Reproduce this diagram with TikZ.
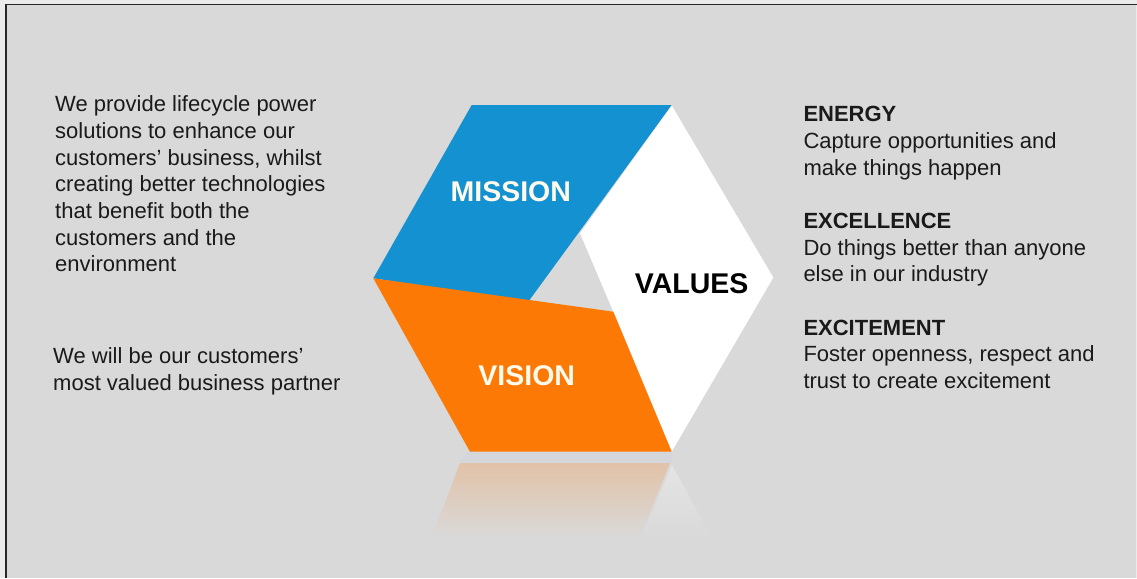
\documentclass[tikz,border=0pt]{standalone}
\usepackage{fontspec}
\setmainfont{Liberation Sans}
\begin{document}
\begin{tikzpicture}[x=1pt,y=-1pt,
  bodytext/.style={anchor=north west, inner sep=0pt, align=left, text=textdark,
    font=\fontsize{22}{26.7}\selectfont},
  headtext/.style={anchor=base west, inner sep=0pt, text=textdark,
    font=\fontsize{22}{26.7}\selectfont\bfseries},
  facetext/.style={anchor=base, inner sep=0pt, font=\fontsize{28.5}{30}\selectfont\bfseries}]
\definecolor{bg}{RGB}{217,217,217}
\definecolor{edge}{RGB}{235,235,235}
\definecolor{textdark}{RGB}{26,26,26}
\definecolor{missionblue}{RGB}{20,145,208}
\definecolor{visionorange}{RGB}{252,121,6}
\definecolor{reforange}{RGB}{226,194,168}
\definecolor{refwhite}{RGB}{228,228,228}
\definecolor{reflband}{RGB}{212,214,220}
\definecolor{cream}{RGB}{255,250,235}

% canvas and frame
\fill[edge] (0,0) rectangle (1137,578);
\fill[bg] (6,4.5) rectangle (1135.5,578);
\useasboundingbox (0,0) rectangle (1137,578);
\draw[line width=1.6pt, black!85] (6,578) -- (6,4.5) -- (1137,4.5);

% faint reflection below the hexagon
\fill[reflband] (466,452) -- (672,452) -- (672,463) -- (460,463) -- cycle;
\shade[top color=reforange, bottom color=bg] (460,463) -- (670,463) -- (640,537) -- (432,537) -- cycle;
\shade[top color=refwhite, bottom color=bg] (672,465) -- (713,540) -- (640,540) -- cycle;

% the three faces of the hexagon
\fill[missionblue] (471.7,105) -- (671.7,105) -- (528.3,301.7) -- (373.3,278.3) -- cycle;
\fill[white] (671.7,105.5) -- (773.3,277.5) -- (671.7,451.7) -- (613.3,311.7) -- (580,233.3) -- cycle;
\fill[visionorange] (373.3,278.3) -- (613.3,311.7) -- (671.7,451.7) -- (470,451.7) -- cycle;

\node[facetext, text=cream] (mission) at (510.8,201.7) {MISSION};
\node[facetext, text=black] (values) at (691.7,293.3) {VALUES};
\node[facetext, text=cream] (vision) at (526.7,385) {VISION};

% mission and vision statements
\node[bodytext] (missiontext) at (55,95.5) {We provide lifecycle power\\solutions to enhance our\\customers’ business, whilst\\creating better technologies\\that benefit both the\\customers and the\\environment};
\node[bodytext] (visiontext) at (53,347.3) {We will be our customers’\\most valued business partner};

% values
\node[headtext] (energy) at (803.3,121.7) {ENERGY};
\node[bodytext] (energytext) at (803.3,132.3) {Capture opportunities and\\make things happen};
\node[headtext] (excellence) at (803.3,228.3) {EXCELLENCE};
\node[bodytext] (excellencetext) at (803.3,239) {Do things better than anyone\\else in our industry};
\node[headtext] (excitement) at (803.3,335) {EXCITEMENT};
\node[bodytext] (excitementtext) at (803.3,345.7) {Foster openness, respect and\\trust to create excitement};
\end{tikzpicture}
\end{document}
